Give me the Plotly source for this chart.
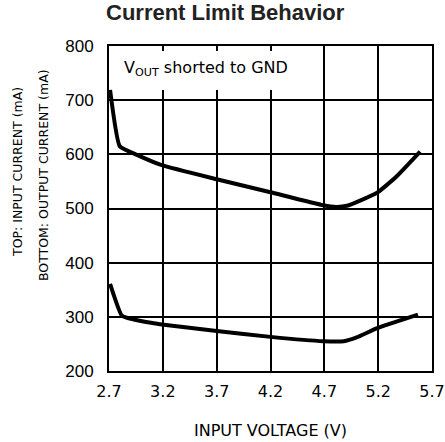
import plotly.graph_objects as go

top_v = [2.71, 2.80, 2.96, 3.19, 3.70, 4.20, 4.69, 4.81, 4.91, 5.19, 5.37, 5.59]
top_ma = [719, 615, 599, 580, 554, 530, 506, 503, 505, 529, 559, 605]
bot_v = [2.71, 2.82, 2.93, 3.19, 3.70, 4.20, 4.69, 4.88, 5.00, 5.19, 5.57]
bot_ma = [361, 302, 295, 286, 274, 263, 255, 255, 262, 279, 304]
x_ticks = [2.7, 3.2, 3.7, 4.2, 4.7, 5.2, 5.7]
y_ticks = [200, 300, 400, 500, 600, 700, 800]

cond = "DejaVu Sans, sans-serif"
arial = "Liberation Sans, Arial, sans-serif"

pl, pr, pt, pb = 109, 13, 46, 71
W, H = 445, 442
pw, ph = W - pl - pr, H - pt - pb


def px_x(p):
    return (p - pl) / pw


def px_y(p):
    return 1 - (p - pt) / ph


fig = go.Figure()
for xs, ys in [(top_v, top_ma), (bot_v, bot_ma)]:
    fig.add_trace(go.Scatter(x=xs, y=ys, mode="lines",
                             line=dict(color="black", width=4, shape="spline", smoothing=0.4),
                             showlegend=False, hoverinfo="skip"))

fig.add_shape(type="rect", x0=2.7, x1=4.455, y0=719, y1=791, xref="x", yref="y",
              fillcolor="white", line=dict(width=0), layer="between")

fig.add_annotation(x=2.82, y=759, xref="x", yref="y", xanchor="left", yanchor="middle",
                   text="V<sub>OUT</sub> shorted to GND", showarrow=False,
                   font=dict(family=cond, size=16, color="black"))

fig.add_annotation(x=px_x(17), y=px_y(172), xref="paper", yref="paper", textangle=-90,
                   text="TOP: INPUT CURRENT (mA)", showarrow=False,
                   xanchor="center", yanchor="middle",
                   font=dict(family=cond, size=12.5, color="black"))
fig.add_annotation(x=px_x(43), y=px_y(175), xref="paper", yref="paper", textangle=-90,
                   text="BOTTOM: OUTPUT CURRENT (mA)", showarrow=False,
                   xanchor="center", yanchor="middle",
                   font=dict(family=cond, size=12.5, color="black"))

fig.add_annotation(x=px_x(225), y=px_y(-2), xref="paper", yref="paper",
                   text="<b>Current Limit Behavior</b>", showarrow=False,
                   xanchor="center", yanchor="top",
                   font=dict(family=arial, size=22, color="#222"))

fig.update_layout(
    width=W, height=H,
    margin=dict(l=pl, r=pr, t=pt, b=pb, autoexpand=False),
    paper_bgcolor="white", plot_bgcolor="white",
    xaxis=dict(range=[2.7, 5.7], tickvals=x_ticks, ticktext=[str(v) for v in x_ticks],
               showgrid=True, gridcolor="black", gridwidth=1.5, automargin=False,
               showline=True, linecolor="black", linewidth=2, mirror="allticks",
               ticks="inside", ticklen=5, tickcolor="black", tickwidth=1.5,
               tickfont=dict(family=cond, size=16, color="black"),
               ticklabelstandoff=5, zeroline=False,
               title=dict(text="INPUT VOLTAGE (V)", font=dict(family=cond, size=16, color="black"),
                          standoff=25)),
    yaxis=dict(range=[200, 800], tickvals=y_ticks, automargin=False,
               showgrid=True, gridcolor="black", gridwidth=1.5,
               showline=True, linecolor="black", linewidth=2, mirror="allticks",
               ticks="", tickfont=dict(family=arial, size=17, color="black"),
               ticklabelstandoff=10, zeroline=False),
)

fig.write_html("out.html", config={"displayModeBar": False},
               post_script="document.body.style.margin='0';")
